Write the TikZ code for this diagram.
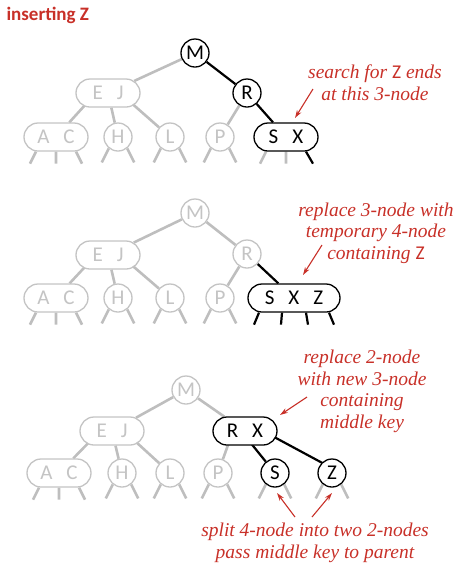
\documentclass[tikz,border=0pt]{standalone}
\usepackage{fontspec}
\usepackage{tikz}
\usetikzlibrary{shapes.misc, arrows.meta, positioning}
\newfontfamily\keyfont{Carlito}
\newfontfamily\notefont{Liberation Serif}
\definecolor{notered}{RGB}{200,48,40}
\definecolor{fadegray}{RGB}{196,196,196}
\definecolor{linkgray}{RGB}{190,190,190}
\pgfdeclarelayer{bg}
\pgfsetlayers{bg,main}
\newcommand{\ks}{\hspace{14pt}}

\begin{document}
\begin{tikzpicture}[
    x=1pt, y=-1pt,
    twon/.style={circle, minimum size=28pt, inner sep=0pt, fill=white, line width=1.3pt,
                 font=\keyfont\fontsize{21}{24}\selectfont},
    threen/.style={rounded rectangle, minimum width=64pt, minimum height=28pt, inner sep=0pt,
                   fill=white, line width=1.3pt, font=\keyfont\fontsize{21}{24}\selectfont},
    fourn/.style={threen, minimum width=92pt},
    faded/.style={draw=fadegray, text=fadegray},
    dark/.style={draw=black, text=black},
    glink/.style={draw=linkgray, line width=2.6pt},
    blink/.style={draw=black, line width=2.2pt},
    note/.style={text=notered, align=center, font=\notefont\itshape\fontsize{19.5}{21.5}\selectfont},
    narr/.style={-{Stealth[length=8pt,width=5pt]}, draw=notered, line width=1.1pt}
]
\useasboundingbox (0,0) rectangle (460,566);

\node[anchor=base west, text=notered, font=\keyfont\bfseries\fontsize{19}{22}\selectfont]
    (title) at (3,20) {inserting Z};

% search ends at the 3-node
\node[twon, dark]    (m1)  at (195,53)  {M};
\node[threen, faded] (ej1) at (108,93)  {E\ks J};
\node[twon, dark]    (r1)  at (247,93)  {R};
\node[threen, faded] (ac1) at (56,137)  {A\ks C};
\node[twon, faded]   (h1)  at (118,137) {H};
\node[twon, faded]   (l1)  at (170,137) {L};
\node[twon, faded]   (p1)  at (220,137) {P};
\node[threen, dark]  (sx1) at (286,137) {S\ks X};

% temporary 4-node
\node[twon, faded]   (m2)   at (195,213) {M};
\node[threen, faded] (ej2)  at (108,255) {E\ks J};
\node[twon, faded]   (r2)   at (247,254) {R};
\node[threen, faded] (ac2)  at (56,298)  {A\ks C};
\node[twon, faded]   (h2)   at (118,298) {H};
\node[twon, faded]   (l2)   at (170,298) {L};
\node[twon, faded]   (p2)   at (220,298) {P};
\node[fourn, dark]   (sxz2) at (294,298) {S\ks X\ks Z};

% split
\node[twon, faded]   (m3)  at (186,390) {M};
\node[threen, faded] (ej3) at (112,431) {E\ks J};
\node[threen, dark]  (rx3) at (245,431) {R\ks X};
\node[threen, faded] (ac3) at (59,473)  {A\ks C};
\node[twon, faded]   (h3)  at (122,473) {H};
\node[twon, faded]   (l3)  at (170,473) {L};
\node[twon, faded]   (p3)  at (218,473) {P};
\node[twon, dark]    (s3)  at (275,473) {S};
\node[twon, dark]    (z3)  at (332,473) {Z};

\begin{pgfonlayer}{bg}
\foreach \p in {1,2} {
  \draw[glink] (m\p) -- (ej\p);
  \draw[glink] ([xshift=-12pt]ej\p.center) -- (ac\p);
  \draw[glink] (ej\p) -- (h\p);
  \draw[glink] ([xshift=12pt]ej\p.center) -- (l\p);
  \draw[glink] (r\p) -- (p\p);
}
\draw[blink] (m1) -- (r1);
\draw[blink] (r1) -- (sx1);
\draw[glink] (m2) -- (r2);
\draw[blink] (r2) -- (sxz2);
\draw[glink] (m3) -- (ej3);
\draw[glink] (m3) -- (rx3);
\draw[glink] ([xshift=-12pt]ej3.center) -- (ac3);
\draw[glink] (ej3) -- (h3);
\draw[glink] ([xshift=12pt]ej3.center) -- (l3);
\draw[glink] ([xshift=-12pt]rx3.center) -- (p3);
\draw[blink] ([xshift=-4pt]rx3.center) -- (s3);
\draw[blink] ([xshift=18pt]rx3.center) -- ([xshift=9pt]z3.center);

% stubs
\foreach \n in {h1,l1,p1,h2,l2,p2,h3,l3,p3,s3,z3}
  \draw[glink] (\n.-129) -- ++(-7,14) (\n.-51) -- ++(7,14);
\foreach \n in {ac1,ac2,ac3}
  \draw[glink] ([xshift=-20pt]\n.south) -- ++(-6,12) (\n.south) -- ++(0,12)
               ([xshift=20pt]\n.south) -- ++(6,12);
\draw[glink] ([xshift=-20pt]sx1.south) -- ++(-6,12) (sx1.south) -- ++(0,12);
\draw[blink] ([xshift=20pt]sx1.south) -- ++(7,12);
\draw[blink] ([xshift=-35pt]sxz2.south) -- ++(-5,12) ([xshift=-12pt]sxz2.south) -- ++(-1,12)
             ([xshift=12pt]sxz2.south) -- ++(2,12) ([xshift=35pt]sxz2.south) -- ++(5,12);
\end{pgfonlayer}

% notes
\node[note, anchor=base] (n1) at (375,100) {search for {\keyfont\upshape Z} ends\\at this 3-node};
\node[note, anchor=base] (n2) at (376,259) {replace 3-node with\\temporary 4-node\\containing {\keyfont\upshape Z}};
\node[note, anchor=base] (n3) at (362,428) {replace 2-node\\with new 3-node\\containing\\middle key};
\node[note, anchor=base] (n4) at (315,558) {split 4-node into two 2-nodes\\pass middle key to parent};

\coordinate (tail1) at (313,89);  \coordinate (tip1) at (295,118);
\coordinate (tail2) at (322,245); \coordinate (tip2) at (303,275);
\coordinate (tail3) at (307,397); \coordinate (tip3) at (280,415);
\coordinate (tail4) at (295,517); \coordinate (tip4) at (277,493);
\coordinate (tail5) at (312,517); \coordinate (tip5) at (332,493);
\foreach \i in {1,...,5}
  \draw[narr] (tail\i) -- (tip\i);
\end{tikzpicture}
\end{document}
